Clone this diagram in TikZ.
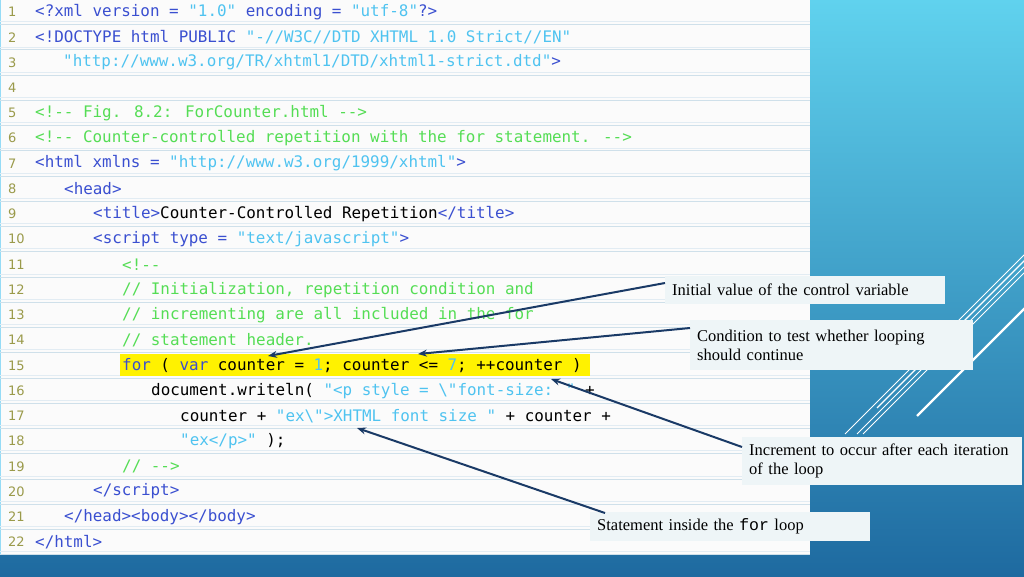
\documentclass[tikz,border=0pt]{standalone}
\usepackage{fontspec}
\setmainfont{Liberation Serif}
\newfontfamily\codefont[Ligatures=ResetAll]{DejaVu Sans Mono}
\newfontfamily\numfont{DejaVu Sans}
\newfontfamily\cmono{Liberation Mono}
\usetikzlibrary{arrows.meta}
\definecolor{tagc}{HTML}{3A4FD0}
\definecolor{strc}{HTML}{4FC3F0}
\definecolor{comc}{HTML}{55DD55}
\definecolor{numc}{HTML}{9A9A4A}
\definecolor{rulec}{HTML}{CFE0EA}
\definecolor{navy}{HTML}{1A3A66}
\definecolor{boxc}{HTML}{EEF5F7}
\definecolor{bgtop}{HTML}{60D2EE}
\definecolor{bgbot}{HTML}{1E6AA0}
\newcommand\ctag[1]{\textcolor{tagc}{#1}}
\newcommand\cstr[1]{\textcolor{strc}{#1}}
\newcommand\ccom[1]{\textcolor{comc}{#1}}
\tikzset{
 code/.style={anchor=west,inner sep=0pt,font=\codefont\fontsize{15.9}{16}\selectfont},
 lnum/.style={anchor=west,inner sep=0pt,text=numc,font=\numfont\fontsize{13}{14}\selectfont},
 note/.style={fill=boxc,anchor=north west,inner xsep=7pt,inner ysep=0pt,font=\fontsize{16.5}{19}\selectfont,align=left,text=black},
 arr/.style={navy,line width=2pt,-{Stealth[length=9pt,width=7pt]}}
}
\begin{document}
\begin{tikzpicture}[x=1pt,y=-1pt]
\useasboundingbox (0,0) rectangle (1024,576);
\shade[top color=bgtop,bottom color=bgbot] (0,0) rectangle (1024,576);
\begin{scope}
\clip (810,0) rectangle (1024,576);
\draw[white,line width=2.2pt] (917,416) -- ++(200,-200);
\draw[white,line width=1.2pt] (877,408) -- ++(200,-200);
\draw[white,line width=1pt] (857,434) -- ++(200,-200);
\draw[white,line width=1pt] (863,434) -- ++(200,-200);
\draw[white,line width=0.8pt] (845,434) -- ++(200,-200);
\end{scope}
\fill[white!97!gray] (0,0) rectangle (810,555);
\draw[strc!60,line width=1pt] (0.5,0) -- (0.5,555);
\foreach \i in {0,...,21}{
  \draw[rulec,line width=0.8pt] (0,{24.6+25.24*\i}) -- (810,{24.6+25.24*\i});
  \draw[rulec!60,line width=0.6pt] (0,{21.6+25.24*\i}) -- (810,{21.6+25.24*\i});
}
\fill[yellow] (120,354) rectangle (590,376);
\foreach \i in {1,...,22}
  \node[lnum] (n\i) at (8,{12+25.24*(\i-1)}) {\i};
\node[code] (l1) at (35,12) {\ctag{<?xml version =} \cstr{"1.0"} \ctag{encoding =} \cstr{"utf-8"}\ctag{?>}};
\node[code] (l2) at (35,37.2) {\ctag{<!DOCTYPE html PUBLIC} \cstr{"-//W3C//DTD XHTML 1.0 Strict//EN"}};
\node[code] (l3) at (63,62.5) {\cstr{"http://www.w3.org/TR/xhtml1/DTD/xhtml1-strict.dtd"}\ctag{>}};
\node[code] (l5) at (35,113) {\ccom{<!-{}- Fig. 8.2: ForCounter.html -{}->}};
\node[code] (l6) at (35,138.2) {\ccom{<!-{}- Counter-controlled repetition with the for statement. -{}->}};
\node[code] (l7) at (35,163.4) {\ctag{<html xmlns =} \cstr{"http://www.w3.org/1999/xhtml"}\ctag{>}};
\node[code] (l8) at (64,188.7) {\ctag{<head>}};
\node[code] (l9) at (93,214) {\ctag{<title>}Counter-Controlled Repetition\ctag{</title>}};
\node[code] (l10) at (93,239.2) {\ctag{<script type =} \cstr{"text/javascript"}\ctag{>}};
\node[code] (l11) at (122,264.4) {\ccom{<!-{}-}};
\node[code] (l12) at (122,289.6) {\ccom{// Initialization, repetition condition and}};
\node[code] (l13) at (122,314.9) {\ccom{// incrementing are all included in the for}};
\node[code] (l14) at (122,340.1) {\ccom{// statement header.}};
\node[code] (l15) at (122,365.4) {\ctag{for} ( \ctag{var} counter = \cstr{1}; counter <= \cstr{7}; ++counter )};
\node[code] (l16) at (151,390.6) {document.writeln( \cstr{"<p style = \textbackslash"font-size: "} +};
\node[code] (l17) at (180,415.8) {counter + \cstr{"ex\textbackslash">XHTML font size "} + counter +};
\node[code] (l18) at (180,441.1) {\cstr{"ex</p>"} );};
\node[code] (l19) at (122,466.3) {\ccom{// -{}->}};
\node[code] (l20) at (93,491.6) {\ctag{</script>}};
\node[code] (l21) at (64,516.8) {\ctag{</head><body></body>}};
\node[code] (l22) at (35,542) {\ctag{</html>}};
\coordinate (t1) at (268,356);
\coordinate (t2) at (418,354);
\coordinate (t3) at (551,379);
\coordinate (t4) at (357,428);
\node[note,text width=266pt,minimum height=28pt] (b1) at (665,276) {Initial value of the control variable};
\node[note,text width=269pt,minimum height=50pt] (b2) at (690,320) {Condition to test whether looping\\should continue};
\node[note,text width=266pt,minimum height=48pt] (b3) at (742,437) {Increment to occur after each iteration\\of the loop};
\node[note,text width=266pt,minimum height=29pt] (b4) at (590,512) {Statement inside the {\cmono for} loop};
\draw[arr] (b1.north west) ++(0,7) -- (t1);
\draw[arr] (b2.north west) ++(0,8) -- (t2);
\draw[arr] (b3.north west) ++(0,10) -- (t3);
\draw[arr] (b4.north west) ++(15,1) -- (t4);
\end{tikzpicture}
\end{document}
